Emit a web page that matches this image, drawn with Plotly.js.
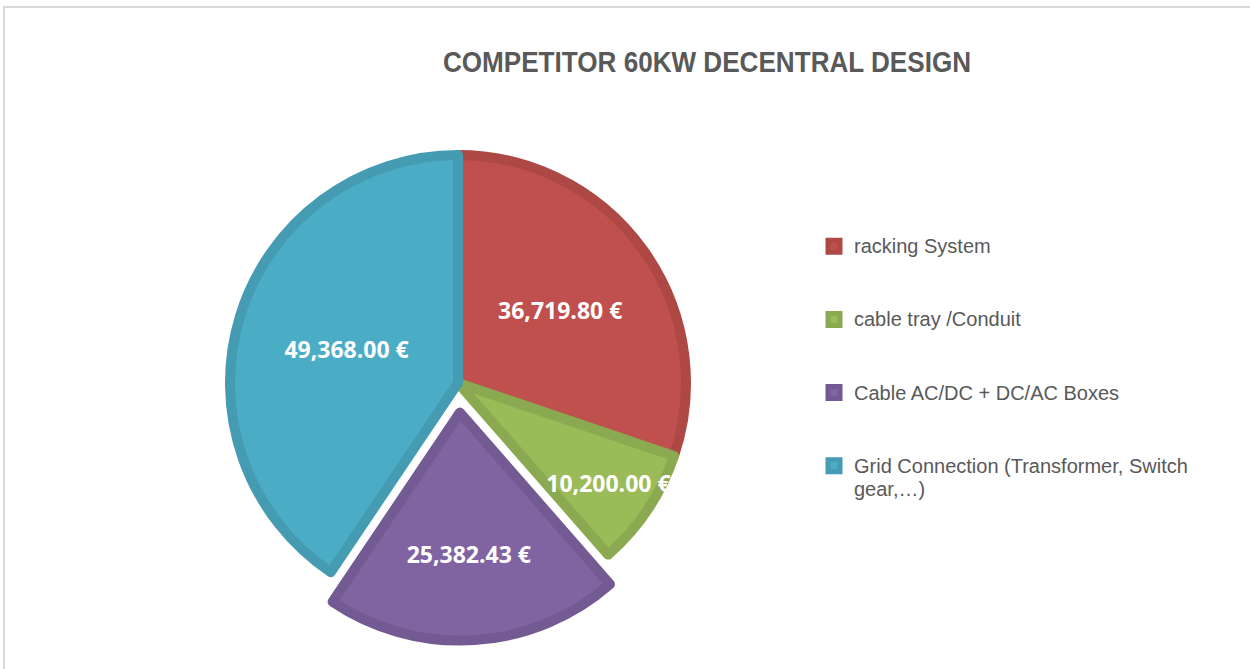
<!DOCTYPE html>
<html>
<head>
<meta charset="utf-8">
<script src="https://cdn.plot.ly/plotly-3.0.1.min.js"></script>
<style>
  html, body { margin: 0; padding: 0; background: #ffffff; }
  #wrap { position: relative; width: 1250px; height: 669px; overflow: hidden; }
  #frame { position: absolute; left: 3px; top: 6px; width: 1300px; height: 700px;
           border-top: 2px solid #d9d9d9; border-left: 2px solid #d9d9d9; pointer-events: none; z-index: 5; }
  #chart { position: absolute; left: 0; top: 0; width: 1250px; height: 669px; }
  #chart .gtitle { transform: scaleX(0.9); transform-origin: 707px 62px; }
</style>
</head>
<body>
<div id="wrap">
  <div id="chart"></div>
  <div id="frame"></div>
</div>
<script>
// ---- data ----
const categories = [
  "racking System",
  "cable tray /Conduit",
  "Cable AC/DC + DC/AC Boxes",
  "Grid Connection (Transformer, Switch gear,…)"
];
const values = [36719.80, 10200.00, 25382.43, 49368.00];
const pulls = [0, 0, 0.13, 0];
const fillColors = ["#C0504D", "#9BBB59", "#8064A2", "#4BACC6"];
const borderColors = ["#AD4845", "#8BA950", "#735A92", "#449BB2"];
const legendLines = [
  ["racking System"],
  ["cable tray /Conduit"],
  ["Cable AC/DC + DC/AC Boxes"],
  ["Grid Connection (Transformer, Switch", "gear,…)"]
];

// legend label: visible text in a span, padded to a fixed number of lines for spacing
const legendLabels = legendLines.map(function (lines) {
  const vis = lines.map(function (l) { return '<span style="font-size:20px">' + l + '</span>'; });
  while (vis.length < 3) vis.push(' ');
  return vis.join('<br>');
});

const W = 1250, H = 669;
const cx = 458, cy = 383, r = 228;
const maxPull = Math.max.apply(null, pulls);
const half = r * (1 + maxPull);

const trace = {
  type: 'pie',
  labels: legendLabels,
  values: values,
  sort: false,
  direction: 'clockwise',
  rotation: 0,
  pull: pulls,
  marker: { colors: fillColors, line: { color: borderColors, width: 10 } },
  textinfo: 'value',
  texttemplate: '%{value:,.2f} €',
  textposition: 'inside',
  insidetextorientation: 'horizontal',
  textfont: { family: '"Open Sans", "Noto Sans", sans-serif', size: 23, color: '#ffffff', weight: 'bold' },
  hoverinfo: 'none',
  domain: {
    x: [(cx - half) / W, (cx + half) / W],
    y: [1 - (cy + half) / H, 1 - (cy - half) / H]
  }
};

const layout = {
  width: W, height: H,
  margin: { l: 0, r: 0, t: 0, b: 0 },
  paper_bgcolor: '#ffffff',
  uniformtext: { mode: 'show', minsize: 23 },
  title: {
    text: 'COMPETITOR 60KW DECENTRAL DESIGN',
    font: { family: '"Liberation Sans", Arial, sans-serif', size: 29, color: '#595959', weight: 'bold' },
    x: 707 / W, xanchor: 'center', xref: 'paper',
    y: 1 - 62 / H, yanchor: 'middle', yref: 'container'
  },
  showlegend: true,
  legend: {
    x: 814 / W, xanchor: 'left',
    y: 1 - 228 / H, yanchor: 'top',
    valign: 'top',
    font: { family: '"Liberation Sans", Arial, sans-serif', size: 18, color: '#595959' },
    bgcolor: 'rgba(0,0,0,0)'
  }
};

Plotly.newPlot('chart', [trace], layout, { displayModeBar: false, staticPlot: true });
</script>
</body>
</html>
